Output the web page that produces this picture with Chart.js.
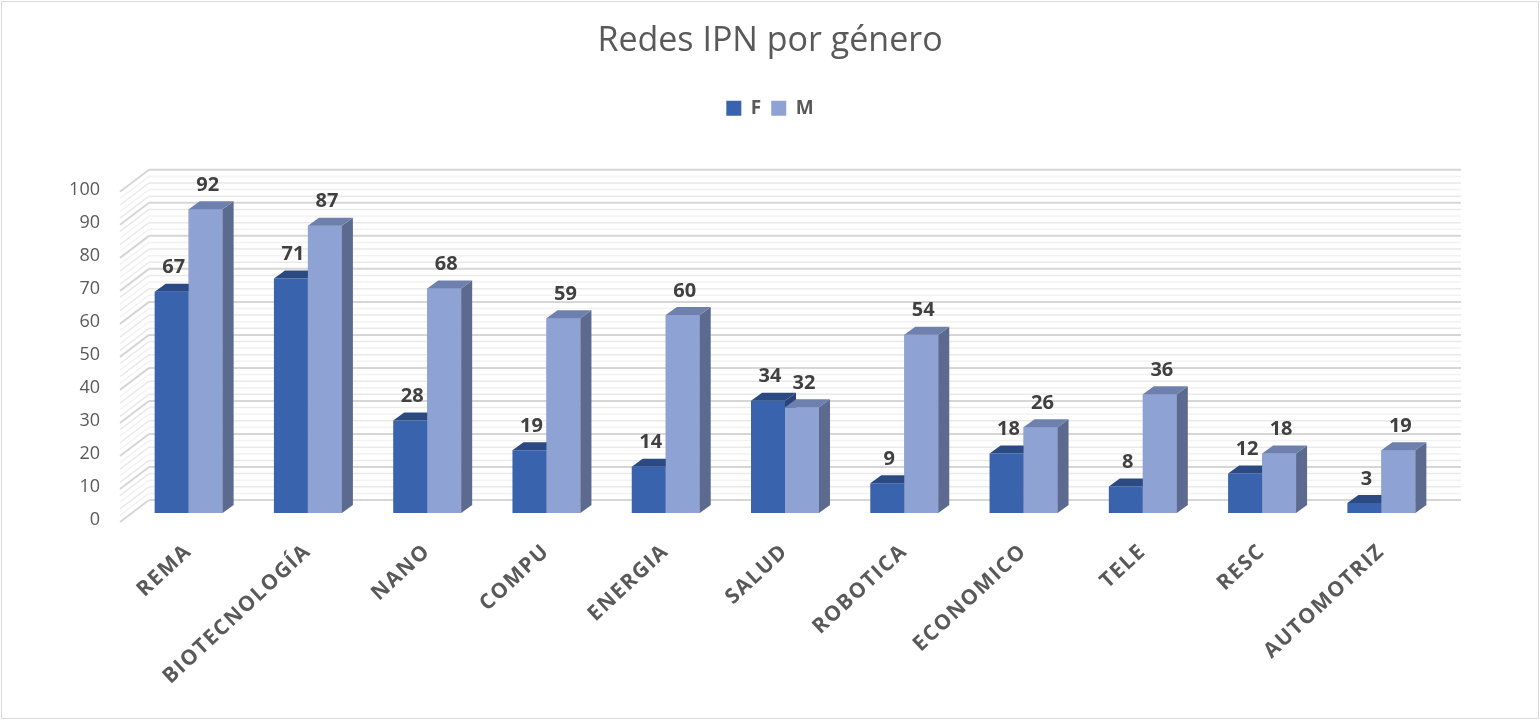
<!DOCTYPE html>
<html>
<head>
<meta charset="utf-8">
<title>Redes IPN por género</title>
<script src="https://cdn.jsdelivr.net/npm/chart.js@4.4.1/dist/chart.umd.min.js"></script>
<style>
  html, body { margin: 0; padding: 0; background: #fff; }
  #wrap { position: absolute; left: 1px; top: 1px; width: 1536px; height: 716px; border: 1px solid #d9d9d9; }
</style>
</head>
<body>
<div id="wrap"><canvas id="chart" width="1536" height="716"></canvas></div>
<script>
// data
const categories = ['REMA', 'BIOTECNOLOGÍA', 'NANO', 'COMPU', 'ENERGIA', 'SALUD', 'ROBOTICA', 'ECONOMICO', 'TELE', 'RESC', 'AUTOMOTRIZ'];
const femenino = [67, 71, 28, 19, 14, 34, 9, 18, 8, 12, 3];
const masculino = [92, 87, 68, 59, 60, 32, 54, 26, 36, 18, 19];
const seriesNames = ['F', 'M'];
const yMax = 100;
const yStep = 10;

// face colours: front / top / side
const faces = [
    { front: '#3a63ad', top: '#2b4a83', side: '#27437a' },
    { front: '#8fa2d4', top: '#6e80ad', side: '#5b6a8e' }
];

const FONT = 'Open Sans';
const GREY = '#595959';

// 3D offsets (pixels)
const BAR_DX = 11, BAR_DY = 8;
const BACK = { x: 20, y: -13 };
const FRONT = { x: -9, y: 9 };

// back and side walls, drawn behind the bars
const walls = {
    id: 'walls',
    beforeDatasetsDraw(chart) {
        const { ctx, chartArea: a, scales: { y } } = chart;
        ctx.save();
        for (let v = 0; v <= yMax; v += 2) {
            const p = y.getPixelForValue(v);
            const major = v % yStep === 0;
            ctx.strokeStyle = major ? '#d6d6d6' : (v % 4 === 0 ? '#e9e9e9' : '#f2f2f2');
            ctx.lineWidth = major ? 2 : 1.5;
            ctx.beginPath();
            ctx.moveTo(a.left + BACK.x, p + BACK.y);
            ctx.lineTo(a.right + BACK.x, p + BACK.y);
            ctx.stroke();
            ctx.beginPath();
            ctx.moveTo(a.left + FRONT.x, p + FRONT.y);
            ctx.lineTo(a.left + BACK.x, p + BACK.y);
            ctx.stroke();
        }
        ctx.restore();
    }
};

// top and side faces of each bar, then the value labels
const bars3d = {
    id: 'bars3d',
    afterDatasetsDraw(chart) {
        const { ctx } = chart;
        const metas = [chart.getDatasetMeta(0), chart.getDatasetMeta(1)];
        ctx.save();
        categories.forEach((c, i) => {
            metas.forEach((meta, k) => {
                const { x, y, base, width } = meta.data[i].getProps(['x', 'y', 'base', 'width'], true);
                const l = x - width / 2, r = x + width / 2;
                const col = faces[k];
                if (k === 1) {
                    ctx.fillStyle = col.front;
                    ctx.fillRect(l, y, width, base - y);
                }
                ctx.fillStyle = col.side;
                ctx.beginPath();
                ctx.moveTo(r, y);
                ctx.lineTo(r + BAR_DX, y - BAR_DY);
                ctx.lineTo(r + BAR_DX, base - BAR_DY);
                ctx.lineTo(r, base);
                ctx.closePath();
                ctx.fill();
                ctx.fillStyle = col.top;
                ctx.beginPath();
                ctx.moveTo(l, y);
                ctx.lineTo(l + BAR_DX, y - BAR_DY);
                ctx.lineTo(r + BAR_DX, y - BAR_DY);
                ctx.lineTo(r, y);
                ctx.closePath();
                ctx.fill();
            });
        });
        ctx.font = 'bold 20px "' + FONT + '"';
        ctx.fillStyle = '#404040';
        ctx.textAlign = 'center';
        ctx.textBaseline = 'middle';
        metas.forEach((meta, k) => {
            const values = k === 0 ? femenino : masculino;
            meta.data.forEach((bar, i) => {
                ctx.fillText(String(values[i]), bar.x + 2, bar.y - 24);
            });
        });
        ctx.restore();
    }
};

// extra room under the legend
const legendGap = {
    id: 'legendGap',
    beforeInit(chart) {
        const fit = chart.legend.fit;
        chart.legend.fit = function () {
            fit.call(this);
            this.height += 55;
        };
    }
};

// category labels are slightly letter-spaced like the original
const spacedLabels = {
    id: 'spacedLabels',
    afterUpdate(chart) {
        const xs = chart.scales.x;
        if (xs._spaced) return;
        const draw = xs.drawLabels;
        xs.drawLabels = function (area) {
            this.ctx.save();
            this.ctx.letterSpacing = '1.5px';
            draw.call(this, area);
            this.ctx.restore();
        };
        xs._spaced = true;
    }
};

new Chart(document.getElementById('chart'), {
    type: 'bar',
    data: {
        labels: categories,
        datasets: [
            { label: seriesNames[0], data: femenino, backgroundColor: faces[0].front, borderWidth: 0 },
            { label: seriesNames[1], data: masculino, backgroundColor: faces[1].front, borderWidth: 0 }
        ]
    },
    options: {
        responsive: false,
        animation: false,
        devicePixelRatio: 1,
        categoryPercentage: 0.57,
        barPercentage: 1,
        layout: { padding: { left: 10, right: 10, top: 0, bottom: 10 } },
        plugins: {
            title: {
                display: true,
                text: 'Redes IPN por género',
                color: GREY,
                font: { family: FONT, size: 34, weight: 'normal' },
                padding: { top: 19, bottom: 27 }
            },
            legend: {
                position: 'top',
                labels: {
                    color: GREY,
                    font: { family: FONT, size: 19, weight: 'bold' },
                    boxWidth: 15,
                    boxHeight: 15,
                    padding: 10
                }
            },
            tooltip: { enabled: false }
        },
        scales: {
            x: {
                grid: { display: false, drawTicks: false },
                border: { display: false },
                ticks: {
                    autoSkip: false,
                    minRotation: 43,
                    maxRotation: 43,
                    padding: 26,
                    color: GREY,
                    font: { family: FONT, size: 21, weight: 'bold' }
                },
                afterFit(s) { s.height = 195; }
            },
            y: {
                min: 0,
                max: yMax,
                grid: { display: false, drawTicks: false },
                border: { display: false },
                ticks: {
                    stepSize: yStep,
                    padding: 29,
                    labelOffset: 7,
                    color: GREY,
                    font: { family: FONT, size: 18 }
                },
                afterFit(s) { s.width = 117; }
            },
            pad: {
                type: 'linear',
                position: 'right',
                grid: { display: false },
                border: { display: false },
                ticks: { display: false },
                afterFit(s) { s.width = 87; }
            }
        }
    },
    plugins: [legendGap, walls, bars3d, spacedLabels]
});
</script>
</body>
</html>
